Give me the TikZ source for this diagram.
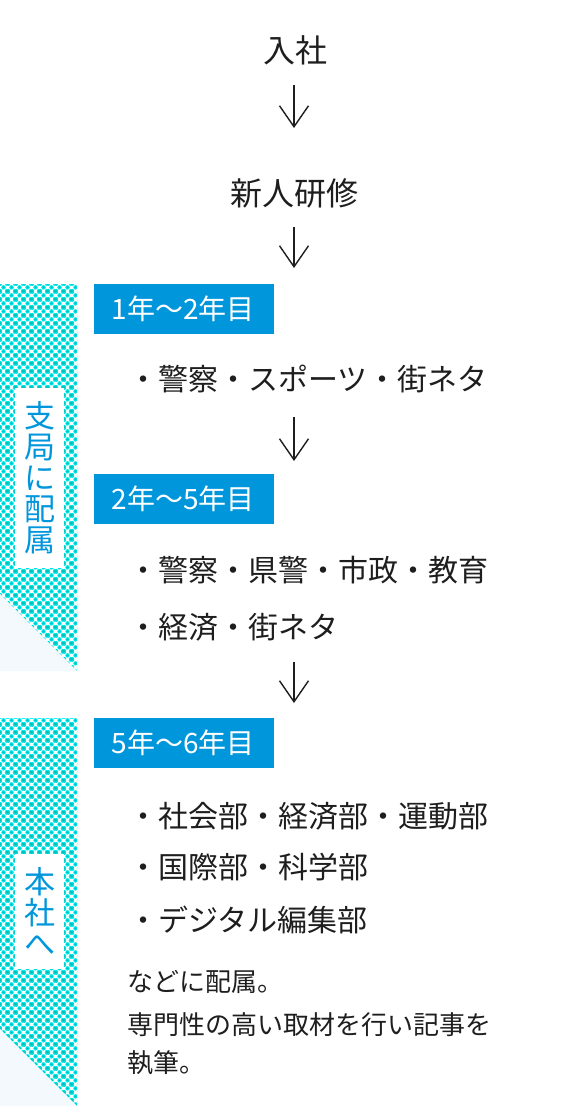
\documentclass[tikz,border=0pt]{standalone}
\usepackage{fontspec}
\setmainfont{Noto Sans CJK JP}
\usetikzlibrary{patterns.meta,arrows.meta}
\definecolor{hdrblue}{RGB}{0,150,220}
\definecolor{dotc}{RGB}{0,228,230}
\definecolor{dotcore}{RGB}{0,185,170}
\definecolor{paleblue}{RGB}{243,249,253}
\definecolor{ink}{RGB}{30,30,30}
\tikzdeclarepattern{
  name=halftone,
  type=colored,
  tile size={(7.5pt,7.6pt)},
  bounding box={(0pt,0pt) and (7.5pt,7.6pt)},
  code={
    \foreach \px/\py in {0/0,7.5/0,0/7.6,7.5/7.6,3.75/3.8}{
      \fill[dotc] (\px pt,\py pt) circle (2.35pt);
      \fill[dotcore] (\px pt,\py pt) circle (1pt);
    }
  }
}
\begin{document}
\begin{tikzpicture}[x=1pt,y=-1pt,
  body/.style={font=\fontsize{30}{36}\selectfont, text=ink, inner sep=0pt, anchor=west},
  ttl/.style={font=\fontsize{32}{38}\selectfont, text=ink, inner sep=0pt},
  hdr/.style={fill=hdrblue, text=white, font=\fontsize{28}{32}\selectfont, minimum height=50pt, text width=145pt, inner xsep=17.5pt, inner ysep=0pt, align=left, anchor=north west},
  vlab/.style={fill=white, text=hdrblue, font=\fontsize{31}{31}\selectfont, minimum width=49pt, inner sep=0pt, align=center},
  note/.style={font=\fontsize{26}{38}\selectfont, text=ink, inner sep=0pt, anchor=west},
  flow/.style={draw=ink, line width=1.4pt, -{Straight Barb[length=21pt,width=29pt,line width=1.4pt]}}
]
\useasboundingbox (0,0) rectangle (588,1108);
% stripes
\fill[pattern=halftone] (0,284) -- (77,284) -- (77,671) -- (0,594) -- cycle;
\fill[paleblue] (0,594) -- (77,671) -- (0,671) -- cycle;
\fill[pattern=halftone] (0,718) -- (77,718) -- (77,1106) -- (0,1029) -- cycle;
\fill[paleblue] (0,1029) -- (77,1106) -- (0,1106) -- cycle;
\node[vlab, minimum height=180pt] (v1) at (39.5,478) {支\\局\\に\\配\\属};
\node[vlab, minimum height=115pt] (v2) at (39.5,911.5) {本\\社\\へ};
% flow
\node[ttl] (n1) at (295,50) {入社};
\node[ttl] (n2) at (294,193) {新人研修};
\node[hdr] (h1) at (94,284) {1年〜2年目};
\node[body] (l1) at (128,379) {・警察・スポーツ・街ネタ};
\node[hdr] (h2) at (94,474) {2年〜5年目};
\node[body] (l2) at (128,570) {・警察・県警・市政・教育};
\node[body] (l3) at (128,627) {・経済・街ネタ};
\node[hdr] (h3) at (94,718) {5年〜6年目};
\node[body] (l4) at (128,816) {・社会部・経済部・運動部};
\node[body] (l5) at (128,867) {・国際部・科学部};
\node[body] (l6) at (128,920) {・デジタル編集部};
\node[note] (t1) at (127,982) {などに配属。};
\node[note] (t2) at (127,1025) {専門性の高い取材を行い記事を};
\node[note] (t3) at (127,1063) {執筆。};
% arrows
\coordinate (a1s) at (294,85);  \coordinate (a1e) at (294,128);
\coordinate (a2s) at (294,227); \coordinate (a2e) at (294,268);
\coordinate (a3s) at (294,417); \coordinate (a3e) at (294,461);
\coordinate (a4s) at (294,662); \coordinate (a4e) at (294,703);
\draw[flow] (a1s) -- (a1e);
\draw[flow] (a2s) -- (a2e);
\draw[flow] (a3s) -- (a3e);
\draw[flow] (a4s) -- (a4e);
\end{tikzpicture}
\end{document}
